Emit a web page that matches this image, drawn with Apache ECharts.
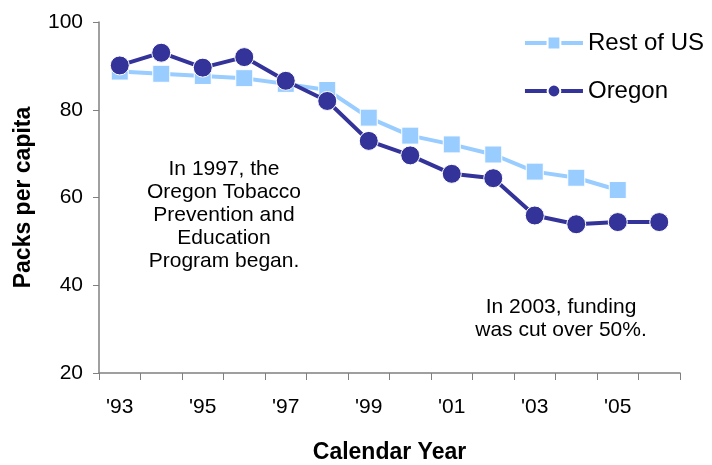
<!DOCTYPE html>
<html>
<head>
<meta charset="utf-8">
<script src="https://cdn.jsdelivr.net/npm/echarts@6/dist/echarts.min.js"></script>
<style>html,body{margin:0;padding:0;background:#fff}#c{width:712px;height:465px}</style>
</head>
<body>
<div id="c"></div>
<script>
var years = ["'93","'94","'95","'96","'97","'98","'99","'00","'01","'02","'03","'04","'05","'06"];
var restOfUS = [88.7, 88.2, 87.7, 87.2, 85.9, 84.5, 78.2, 74.1, 72.1, 69.8, 65.9, 64.5, 61.7, null];
var oregon = [90.1, 93.0, 89.6, 92.0, 86.6, 82.0, 72.9, 69.6, 65.4, 64.4, 55.9, 53.9, 54.4, 54.4];
var yTicks = {min: 20, max: 100, interval: 20};
var note1 = "In 1997, the\nOregon Tobacco\nPrevention and\nEducation\nProgram began.";
var note2 = "In 2003, funding\nwas cut over 50%.";

var FONT = '"Liberation Sans", Arial, sans-serif';
var chart = echarts.init(document.getElementById('c'), null, {renderer: 'canvas'});
chart.setOption({
  animation: false,
  textStyle: {fontFamily: FONT},
  grid: {left: 99, right: 32, top: 22, bottom: 92, containLabel: false, outerBoundsMode: 'none'},
  legend: {
    orient: 'vertical', right: 3, top: 26, itemGap: 24,
    itemWidth: 58, itemHeight: 16,
    lineStyle: {width: 4},
    textStyle: {fontFamily: FONT, fontSize: 24, color: '#000'},
    data: ['Rest of US', 'Oregon']
  },
  xAxis: {
    type: 'category', data: years, boundaryGap: true,
    name: 'Calendar Year', nameLocation: 'middle', nameGap: 68,
    nameTextStyle: {fontFamily: FONT, fontSize: 23, fontWeight: 'bold', color: '#000'},
    axisLine: {lineStyle: {color: '#808080', width: 1.5}},
    axisTick: {show: true, interval: 0, length: 7, lineStyle: {color: '#808080'}},
    axisLabel: {interval: 1, margin: 24, fontSize: 21, color: '#000', fontFamily: FONT},
    splitLine: {show: false}
  },
  yAxis: {
    type: 'value', min: yTicks.min, max: yTicks.max, interval: yTicks.interval,
    name: 'Packs per capita', nameLocation: 'middle', nameGap: 64,
    nameTextStyle: {fontFamily: FONT, fontSize: 23, fontWeight: 'bold', color: '#000'},
    axisLine: {show: true, lineStyle: {color: '#808080', width: 1.5}},
    axisTick: {show: true, length: 6, lineStyle: {color: '#808080'}},
    axisLabel: {margin: 16, fontSize: 21, color: '#000', fontFamily: FONT},
    splitLine: {show: false}
  },
  series: [
    {
      name: 'Rest of US', type: 'line', data: restOfUS,
      symbol: 'rect', symbolSize: 17,
      lineStyle: {color: '#99ccff', width: 4},
      itemStyle: {color: '#99ccff', borderColor: '#fff', borderWidth: 1},
      z: 2
    },
    {
      name: 'Oregon', type: 'line', data: oregon,
      symbol: 'circle', symbolSize: 19,
      lineStyle: {color: '#333399', width: 4},
      itemStyle: {color: '#333399', borderColor: '#fff', borderWidth: 1},
      z: 3
    }
  ],
  graphic: [
    {type: 'text', x: 224, y: 158, style: {text: note1, align: 'center', font: '21px ' + FONT, fill: '#000', lineHeight: 23}},
    {type: 'text', x: 561, y: 296, style: {text: note2, align: 'center', font: '21px ' + FONT, fill: '#000', lineHeight: 23}}
  ]
});
</script>
</body>
</html>
